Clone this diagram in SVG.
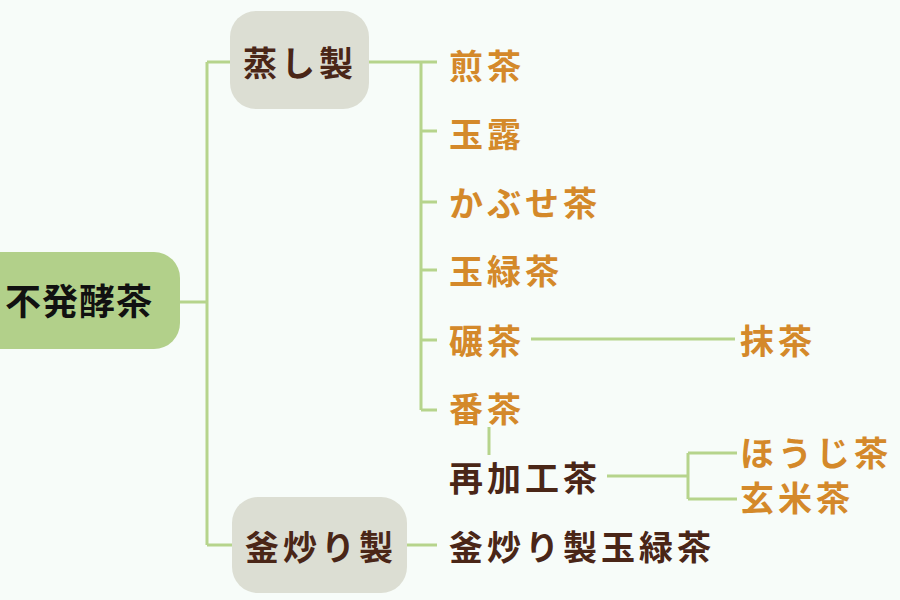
<svg xmlns="http://www.w3.org/2000/svg" width="900" height="600" viewBox="0 0 900 600">
<style>
.t{font-family:"Noto Sans CJK JP","Noto Sans",sans-serif;font-weight:bold;font-size:34px;letter-spacing:4px;dominant-baseline:central}
.leaf{fill:#d4892a}
.dark{fill:#4a2617}
.ln{stroke:#b6d48c;stroke-width:3;fill:none}
</style>
<rect width="900" height="600" fill="#f7fcf9"/>
<g id="connectors">
<path class="ln" d="M180 302H207M207 62V545M207 62H232M207 545H234"/>
<path class="ln" d="M369 62H437M421 62V410M421 131H437M421 202H437M421 270H437M421 340H437M421 410H437"/>
<path class="ln" d="M531 339H735"/>
<path class="ln" d="M489 427V455"/>
<path class="ln" d="M607 476H688M688 453V499M688 453H737M688 499H737"/>
<path class="ln" d="M406 545H437"/>
</g>
<g id="root">
<rect x="-30" y="252" width="210" height="97" rx="26" fill="#b2d08a"/>
<text class="t" x="5" y="299" fill="#111" style="font-size:36px;letter-spacing:1px">不発酵茶</text>
</g>
<g id="mushi">
<rect x="230" y="11" width="139" height="98" rx="26" fill="#dcded3"/>
<text class="t dark" x="243" y="61">蒸し製</text>
</g>
<g id="kamairi">
<rect x="232" y="497" width="175" height="96" rx="26" fill="#dcded3"/>
<text class="t dark" x="245" y="545">釜炒り製</text>
</g>
<g id="sencha"><text class="t leaf" x="449" y="64">煎茶</text></g>
<g id="gyokuro"><text class="t leaf" x="449" y="132">玉露</text></g>
<g id="kabusecha"><text class="t leaf" x="449" y="201">かぶせ茶</text></g>
<g id="tamaryokucha"><text class="t leaf" x="449" y="269">玉緑茶</text></g>
<g id="tencha"><text class="t leaf" x="449" y="339">碾茶</text></g>
<g id="matcha"><text class="t leaf" x="740" y="339">抹茶</text></g>
<g id="bancha"><text class="t leaf" x="449" y="407">番茶</text></g>
<g id="saikakocha"><text class="t dark" x="449" y="476">再加工茶</text></g>
<g id="hojicha"><text class="t leaf" x="740" y="451">ほうじ茶</text></g>
<g id="genmaicha"><text class="t leaf" x="740" y="496">玄米茶</text></g>
<g id="kamairi-tamaryokucha"><text class="t dark" x="449" y="545">釜炒り製玉緑茶</text></g>
</svg>
